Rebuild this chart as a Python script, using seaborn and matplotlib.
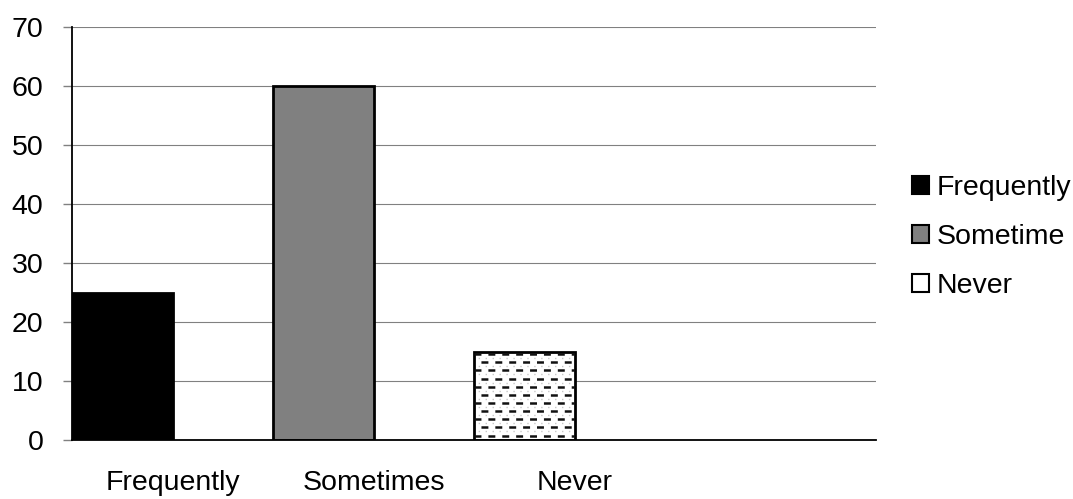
import numpy as np
import pandas as pd
import matplotlib
matplotlib.use("Agg")
import matplotlib.pyplot as plt
import seaborn as sns
from matplotlib.patches import Patch

# ---- data ----
categories = ["Frequently", "Sometimes", "Never"]
values = [25, 60, 15]
legend_labels = ["Frequently", "Sometime", "Never"]
bar_colors = ["#000000", "#808080", "#ffffff"]
y_ticks = [0, 10, 20, 30, 40, 50, 60, 70]
n_slots = 4  # the axis has one extra empty category slot

sns.set_style("white")
plt.rcParams["font.family"] = ["Liberation Sans", "DejaVu Sans"]
plt.rcParams["lines.scale_dashes"] = False
plt.rcParams["text.color"] = "black"
plt.rcParams["xtick.labelcolor"] = "black"
plt.rcParams["ytick.labelcolor"] = "black"

df = pd.DataFrame({"category": categories, "value": values})

fig = plt.figure(figsize=(10.73, 4.99), dpi=100)
ax = fig.add_axes([72 / 1073, 1 - 440 / 499, (876 - 72) / 1073, (440 - 27) / 499])

sns.barplot(data=df, x="category", y="value", hue="category",
            palette=dict(zip(categories, bar_colors)), width=0.5,
            edgecolor="black", linewidth=2, legend=False, ax=ax, zorder=2,
            order=categories, hue_order=categories)

# pattern for the "Never" bar: offset rows of short dashes, clipped to the bar
never_patch = ax.patches[categories.index("Never")]
x0, y0 = never_patch.get_x(), never_patch.get_y()
w, h = never_patch.get_width(), never_patch.get_height()
row_step = 1.38
rows = np.arange(y0 + row_step * 0.55, y0 + h, row_step)
for k, yy in enumerate(rows):
    off = 0 if k % 2 == 0 else 5
    ln, = ax.plot([x0, x0 + w], [yy, yy], color="#111111", lw=1.8,
                  linestyle=(off, (5, 5)), zorder=2.5)
    ln.set_clip_path(never_patch)
    ln.set_dash_capstyle("butt")
    dots, = ax.plot([x0, x0 + w], [yy + row_step / 2] * 2, color="#c8c8c8", lw=1.0,
                    linestyle=(off + 2, (1, 4)), zorder=2.4)
    dots.set_clip_path(never_patch)

# axes limits / ticks
ax.set_xlim(-0.25, n_slots - 0.25)
ax.set_ylim(y_ticks[0], y_ticks[-1])
ax.set_yticks(y_ticks)
ax.set_yticklabels([str(t) for t in y_ticks], fontsize=20.5, color="black")

slot_edges = np.arange(n_slots + 1) - 0.25
slot_centers = np.arange(len(categories)) + 0.25
ax.set_xticks(slot_edges)
ax.set_xticklabels([""] * len(slot_edges))
ax.set_xticks(slot_centers, minor=True)
ax.set_xticklabels(categories, minor=True, fontsize=20.5, color="black")
ax.set_xlabel("")
ax.set_ylabel("")

ax.tick_params(axis="x", which="major", length=6.5, width=1, color="#808080", direction="out")
ax.tick_params(axis="x", which="minor", length=0, pad=21.5)
ax.tick_params(axis="y", which="major", length=6.5, width=1, color="#808080",
               direction="out", pad=14, left=True)

ax.yaxis.grid(True, color="#808080", lw=0.8)
ax.xaxis.grid(False)
ax.set_axisbelow(True)

for s in ["top", "right"]:
    ax.spines[s].set_visible(False)
for s in ["left", "bottom"]:
    ax.spines[s].set_color("black")
    ax.spines[s].set_linewidth(1.3)
    ax.spines[s].set_zorder(3)

handles = [Patch(facecolor=c, edgecolor="black", linewidth=1.5) for c in bar_colors]
leg = fig.legend(handles, legend_labels, loc="center left",
                 bbox_to_anchor=(912 / 1073, 1 - 237 / 499), frameon=False,
                 fontsize=20.5, handlelength=0.6, handleheight=0.6,
                 handletextpad=0.25, labelspacing=0.8, borderaxespad=0,
                 borderpad=0)
for t in leg.get_texts():
    t.set_color("black")

fig.savefig("out.png", dpi=100)
